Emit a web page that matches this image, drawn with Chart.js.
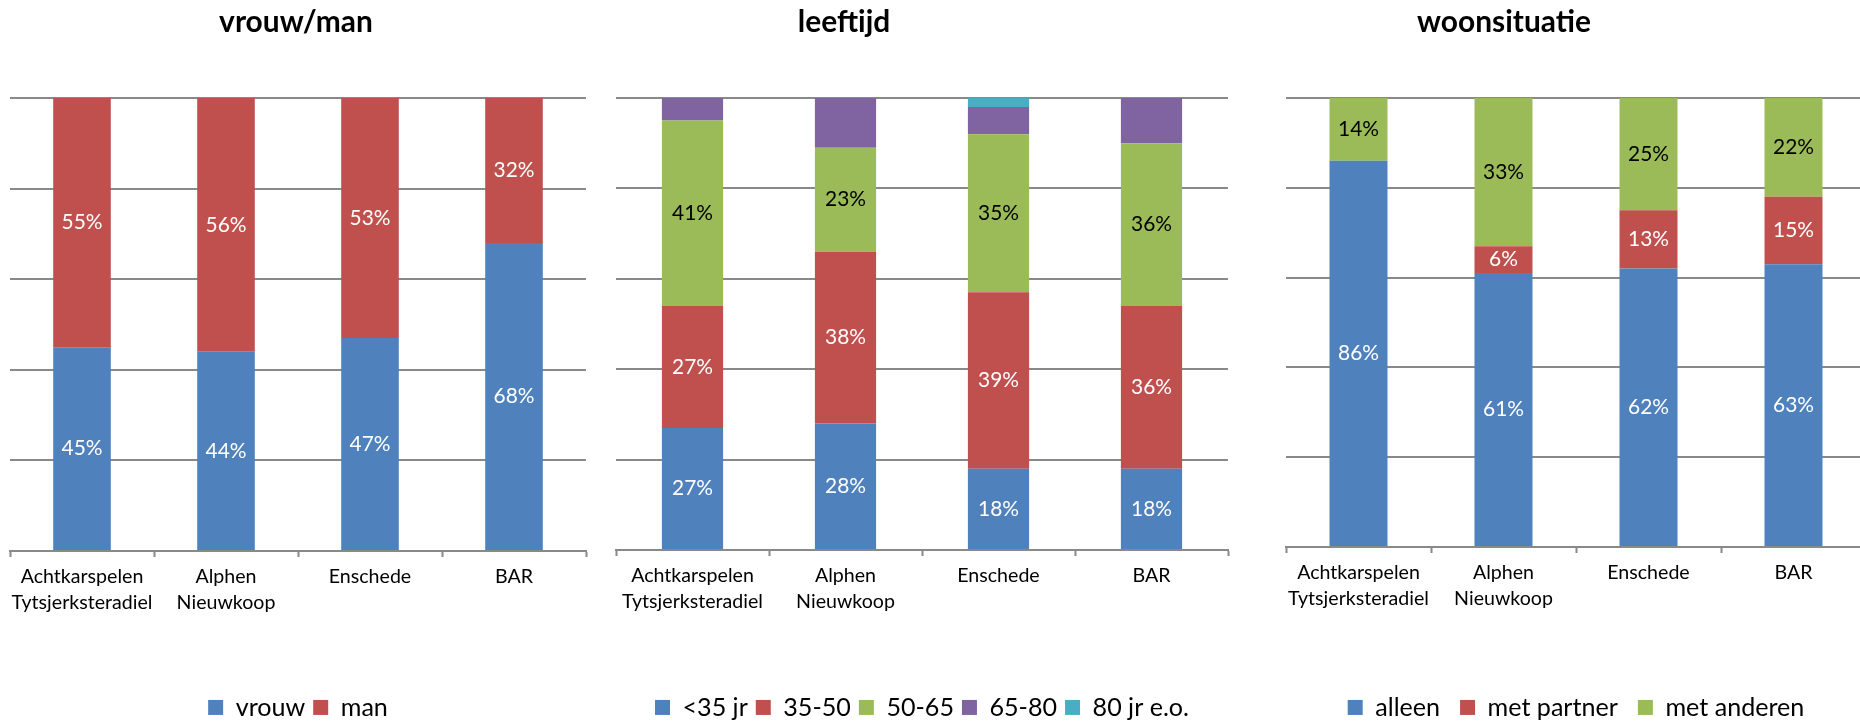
<!DOCTYPE html>
<html>
<head>
<meta charset="utf-8">
<script src="https://cdn.jsdelivr.net/npm/chart.js@4.4.1/dist/chart.umd.min.js"></script>
<style>
	html, body { margin: 0; padding: 0; background: #fff; overflow: hidden; width: 1860px; height: 723px; }
	canvas { position: absolute; top: 0; }
</style>
</head>
<body>
<canvas id="c1" width="596" height="730" style="left:0px"></canvas>
<canvas id="c2" width="772" height="730" style="left:460px"></canvas>
<canvas id="c3" width="730" height="730" style="left:1142px"></canvas>
<script>
// gegevens
const gemeenten = [['Achtkarspelen', 'Tytsjerksteradiel'], ['Alphen', 'Nieuwkoop'], 'Enschede', 'BAR'];
const yTicks = [0, 20, 40, 60, 80, 100];

const vrouw = [45, 44, 47, 68];
const man = [55, 56, 53, 32];

const jonger35 = [27, 28, 18, 18];
const van35tot50 = [27, 38, 39, 36];
const van50tot65 = [41, 23, 35, 36];
const van65tot80 = [5, 11, 6, 10];
const ouder80 = [0, 0, 2, 0];

const alleen = [86, 61, 62, 63];
const metPartner = [0, 6, 13, 15];
const metAnderen = [14, 33, 25, 22];

const BLAUW = '#4F81BD', ROOD = '#C0504D', GROEN = '#9BBB59', PAARS = '#8064A2', TURKOOIS = '#4BACC6';
const GRIJS = '#898989';

// lettergroottes afstemmen op breedtes in het voorbeeld
const meet = document.createElement('canvas').getContext('2d');
function fitFont(text, width, weight) {
	meet.font = weight + ' 100px Lato';
	return Math.round(1000 * width / meet.measureText(text).width) / 10;
}
const titleSize = fitFont('woonsituatie', 174, 'bold');
const tickSize = fitFont('Tytsjerksteradiel', 141, 'normal');
const labelSize = fitFont('55%', 41, 'normal');
const legendSize = fitFont('met anderen', 139, 'normal');

Chart.defaults.font.family = 'Lato';
Chart.defaults.color = '#000';

// percentages midden in elk segment
const segmentLabels = {
	id: 'segmentLabels',
	afterDatasetsDraw(chart) {
		const ctx = chart.ctx;
		ctx.save();
		ctx.font = labelSize + 'px Lato';
		ctx.textAlign = 'center';
		ctx.textBaseline = 'middle';
		chart.data.datasets.forEach((ds, i) => {
			if (!ds.labelColor) return;
			chart.getDatasetMeta(i).data.forEach((bar, j) => {
				const v = ds.data[j];
				if (!v) return;
				ctx.fillStyle = ds.labelColor;
				ctx.fillText(v + '%', bar.x, (bar.y + bar.base) / 2);
			});
		});
		ctx.restore();
	}
};

function maakGrafiek(id, titel, datasets, opt) {
	const H = 730;
	const legendPad = opt.legendPad;
	const legendH = legendSize + legendPad + 10;
	return new Chart(document.getElementById(id), {
		type: 'bar',
		data: { labels: gemeenten, datasets: datasets },
		plugins: [segmentLabels],
		options: {
			responsive: false,
			animation: false,
			devicePixelRatio: 1,
			layout: { padding: { left: opt.padL, right: opt.padR, top: 0, bottom: 0 } },
			datasets: { bar: { categoryPercentage: 1, barPercentage: 0.4 } },
			plugins: {
				title: {
					display: true,
					text: titel,
					font: { size: titleSize, weight: 'bold' },
					padding: { top: 4, bottom: opt.top - 4 - titleSize * 1.2 }
				},
				legend: {
					position: 'bottom',
					fullSize: false,
					labels: {
						font: { size: legendSize },
						boxWidth: 15,
						boxHeight: 15,
						padding: legendPad
					}
				},
				tooltip: { enabled: false }
			},
			scales: {
				x: {
					stacked: true,
					border: { color: GRIJS, width: 2 },
					grid: { drawOnChartArea: false, drawTicks: true, tickLength: 6, tickColor: GRIJS, tickWidth: 2, offset: true },
					ticks: { font: { size: tickSize, lineHeight: 26 / tickSize }, padding: 7, maxRotation: 0, autoSkip: false },
					afterFit: (s) => { s.height = H - legendH - opt.bottom; }
				},
				y: {
					stacked: true,
					min: 0,
					max: 100,
					border: { display: false },
					grid: { color: GRIJS, lineWidth: 2, drawTicks: false },
					ticks: { display: false },
					afterBuildTicks: (s) => { s.ticks = yTicks.map(v => ({ value: v })); },
					afterFit: (s) => { s.width = opt.yWidth; }
				}
			}
		}
	});
}

maakGrafiek('c1', 'vrouw/man', [
	{ label: 'vrouw', data: vrouw, backgroundColor: BLAUW, labelColor: '#fff' },
	{ label: 'man', data: man, backgroundColor: ROOD, labelColor: '#fff' }
], { padL: 6, padR: 10, yWidth: 4, top: 98, bottom: 551, legendPad: 8 });

maakGrafiek('c2', 'leeftijd', [
	{ label: '<35 jr', data: jonger35, backgroundColor: BLAUW, labelColor: '#fff' },
	{ label: '35-50', data: van35tot50, backgroundColor: ROOD, labelColor: '#fff' },
	{ label: '50-65', data: van50tot65, backgroundColor: GROEN, labelColor: '#000' },
	{ label: '65-80', data: van65tot80, backgroundColor: PAARS },
	{ label: '80 jr e.o.', data: ouder80, backgroundColor: TURKOOIS }
], { padL: 0, padR: 4, yWidth: 156, top: 98, bottom: 550, legendPad: 8 });

maakGrafiek('c3', 'woonsituatie', [
	{ label: 'alleen', data: alleen, backgroundColor: BLAUW, labelColor: '#fff' },
	{ label: 'met partner', data: metPartner, backgroundColor: ROOD, labelColor: '#fff' },
	{ label: 'met anderen', data: metAnderen, backgroundColor: GROEN, labelColor: '#000' }
], { padL: 0, padR: 6, yWidth: 144, top: 98, bottom: 547, legendPad: 20 });
</script>
</body>
</html>
